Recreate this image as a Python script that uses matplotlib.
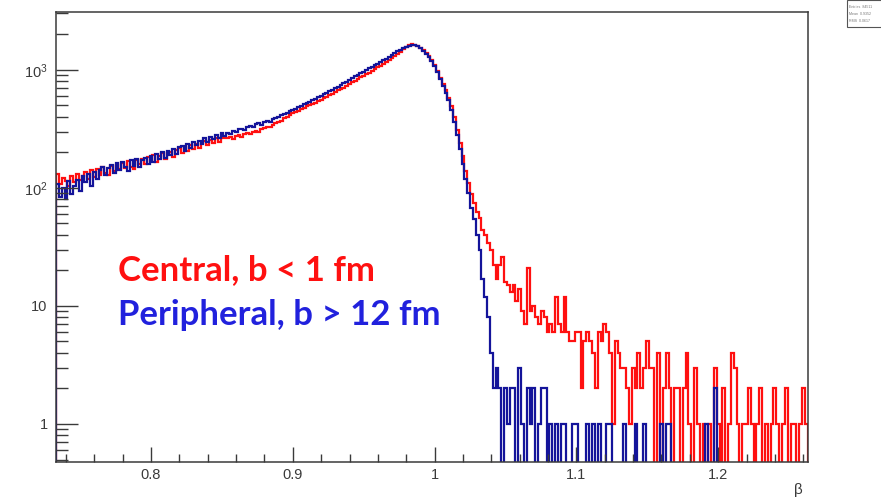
import matplotlib.pyplot as plt
import numpy as np
from matplotlib.patches import Rectangle
from matplotlib.ticker import FixedFormatter, FixedLocator, LogLocator, MultipleLocator, NullFormatter


# histogram binning in beta
beta_lo = 0.733
beta_hi = 1.263
n_bins = 265

# central collisions, b < 1 fm
central_counts = [
    132, 108, 121, 114, 104, 127, 112, 131, 116, 125,
    136, 118, 141, 124, 145, 128, 150, 134, 129, 153,
    138, 157, 144, 163, 147, 169, 151, 145, 172, 158,
    176, 160, 183, 168, 191, 165, 186, 196, 175, 199,
    203, 183, 211, 219, 197, 224, 206, 231, 212, 233,
    218, 242, 249, 229, 256, 240, 262, 245, 268, 263,
    262, 268, 259, 275, 281, 272, 288, 293, 286, 299,
    305, 298, 316, 321, 330, 327, 343, 352, 360, 372,
    392, 401, 414, 428, 436, 451, 462, 476, 490, 503,
    512, 528, 542, 556, 573, 590, 611, 628, 649, 668,
    684, 705, 731, 759, 782, 808, 835, 862, 893, 921,
    948, 985, 1012, 1047, 1085, 1130, 1168, 1210, 1262, 1306,
    1372, 1425, 1490, 1560, 1610, 1640, 1625, 1590, 1530, 1460,
    1390, 1310, 1220, 1100, 975, 860, 760, 670, 580, 495,
    400, 310, 240, 185, 140, 110, 88, 74, 63, 56,
    44, 40, 34, 30, 22, 17, 22, 26, 16, 15,
    13, 15, 11, 14, 9, 7, 21, 9, 10, 8,
    7, 9, 8, 6, 7, 6, 12, 7, 6, 12,
    6, 5, 5, 6, 6, 2, 5, 6, 5, 4,
    2, 6, 5, 7, 6, 4, 1, 5, 4, 3,
    3, 2, 1, 3, 2, 4, 2, 3, 5, 3,
    3, 0, 4, 0, 2, 4, 2, 0, 2, 2,
    0, 2, 4, 1, 0, 3, 1, 0, 1, 0,
    1, 0, 3, 1, 0, 2, 0, 1, 4, 3,
    1, 0, 1, 1, 2, 1, 0, 1, 2, 0,
    1, 0, 1, 2, 1, 0, 1, 2, 0, 1,
    1, 0, 1, 2, 1,
]

# peripheral collisions, b > 12 fm
peripheral_counts = [
    108, 84, 99, 80, 114, 89, 104, 117, 94, 125,
    113, 131, 104, 136, 118, 143, 150, 128, 147, 156,
    134, 161, 143, 166, 149, 140, 171, 154, 177, 149,
    172, 180, 158, 188, 166, 193, 175, 201, 180, 206,
    189, 213, 195, 220, 227, 204, 237, 219, 245, 229,
    251, 235, 263, 247, 272, 258, 280, 265, 291, 277,
    292, 284, 303, 295, 314, 318, 309, 330, 335, 326,
    346, 352, 344, 363, 370, 362, 383, 392, 396, 412,
    423, 431, 446, 458, 467, 482, 494, 509, 524, 538,
    553, 569, 584, 601, 619, 637, 656, 678, 699, 722,
    745, 770, 796, 822, 851, 878, 906, 935, 965, 996,
    1028, 1062, 1096, 1131, 1168, 1205, 1246, 1290, 1335, 1385,
    1430, 1480, 1525, 1570, 1605, 1630, 1620, 1585, 1520, 1450,
    1370, 1280, 1190, 1070, 950, 840, 735, 640, 550, 460,
    360, 280, 215, 160, 118, 90, 68, 54, 40, 30,
    17, 12, 8, 4, 2, 3, 2, 0, 2, 1,
    2, 2, 0, 3, 1, 0, 2, 1, 2, 0,
    1, 2, 2, 0, 1, 0, 1, 0, 1, 1,
    0, 0, 1, 1, 0, 0, 0, 1, 0, 1,
    0, 1, 0, 0, 1, 1, 0, 0, 0, 0,
    1, 0, 0, 0, 1, 0, 0, 1, 0, 0,
    0, 0, 0, 1, 0, 1, 1, 0, 0, 0,
    0, 0, 0, 0, 0, 0, 0, 0, 0, 1,
    0, 0, 2, 0, 0, 0, 0, 0, 0, 0,
    0, 0, 0, 0, 0, 0, 0, 0, 0, 0,
    0, 0, 0, 0, 0, 0, 0, 0, 0, 0,
    0, 0, 0, 0, 0,
]

x_ticks = [0.8, 0.9, 1.0, 1.1, 1.2]
x_tick_labels = ["0.8", "0.9", "1", "1.1", "1.2"]
y_ticks = [1, 10, 100, 1000]
y_tick_labels = ["1", "10", r"$\mathregular{10^{2}}$", r"$\mathregular{10^{3}}$"]

RED = "#ff1010"
NAVY = "#14149a"
AXIS_GREY = "#3a3a3a"

edges = np.linspace(beta_lo, beta_hi, n_bins + 1)

fig = plt.figure(figsize=(8.81, 4.99), dpi=100)
ax = fig.add_axes([0.0636, 0.0741, 0.853, 0.9009])

# empty bins fall below the log axis floor, like ROOT draws them
ax.stairs(np.clip(central_counts, 0.1, None), edges,
          baseline=0.1, color=RED, lw=1.6)
ax.stairs(np.clip(peripheral_counts, 0.1, None), edges,
          baseline=0.1, color=NAVY, lw=1.6)

ax.set_yscale("log")
ax.set_xlim(beta_lo, beta_hi)
ax.set_ylim(0.476, 3060)

ax.xaxis.set_major_locator(FixedLocator(x_ticks))
ax.xaxis.set_major_formatter(FixedFormatter(x_tick_labels))
ax.xaxis.set_minor_locator(MultipleLocator(0.02))

ax.yaxis.set_major_locator(FixedLocator(y_ticks))
ax.yaxis.set_major_formatter(FixedFormatter(y_tick_labels))
ax.yaxis.set_minor_locator(LogLocator(base=10, subs=np.arange(2, 10)))
ax.yaxis.set_minor_formatter(NullFormatter())

for side in ["left", "bottom", "top", "right"]:
    ax.spines[side].set_color(AXIS_GREY)
    ax.spines[side].set_linewidth(1.1)

ax.tick_params(axis="both", which="both", direction="in",
               color=AXIS_GREY, width=1.0, labelcolor=AXIS_GREY,
               labelsize=10.5)
ax.tick_params(axis="y", which="major", length=16, pad=6)
ax.tick_params(axis="y", which="minor", length=8.5)
ax.tick_params(axis="x", which="major", length=11, pad=4)
ax.tick_params(axis="x", which="minor", length=5.8)

for lbl in ax.get_xticklabels() + ax.get_yticklabels():
    lbl.set_family("Liberation Sans")

fig.text(798 / 881, 1 - 490 / 499, "β", ha="center", va="center",
         fontsize=11, color=AXIS_GREY, family="Liberation Sans")

fig.text(118 / 881, 1 - 280 / 499, "Central, b < 1 fm",
         color=RED, fontsize=25, family="Lato", weight="bold",
         va="baseline")
fig.text(118 / 881, 1 - 325 / 499, "Peripheral, b > 12 fm",
         color="#2121dd", fontsize=25, family="Lato", weight="bold",
         va="baseline")

# tiny stats box in the corner
fig.patches.append(Rectangle((847 / 881, 1 - 27 / 499), 40 / 881, 27 / 499,
                             transform=fig.transFigure, facecolor="white",
                             edgecolor="#555555", lw=0.8))
for k, row in enumerate(["Entries  84511", "Mean  0.9352", "RMS  0.0617"]):
    fig.text(849 / 881, 1 - (7 + 7 * k) / 499, row, fontsize=2.6,
             color="#777777", va="center", family="Liberation Sans")

fig.savefig("out.png", dpi=100)
